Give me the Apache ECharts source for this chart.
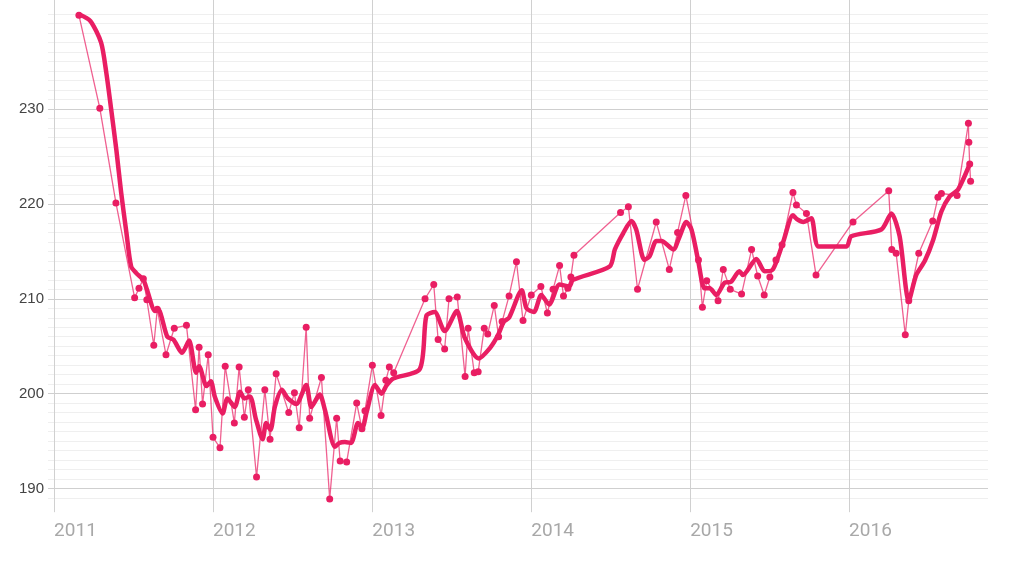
<!DOCTYPE html>
<html>
<head>
<meta charset="utf-8">
<script src="https://cdn.jsdelivr.net/npm/echarts@6/dist/echarts.min.js"></script>
<style>
    html, body { margin: 0; padding: 0; background: #fff; }
    #chart { width: 1024px; height: 576px; }
</style>
</head>
<body>
<div id="chart"></div>
<script>
// raw observations (thin line with dots)
const rawDates = [
    '2011-02-27', '2011-04-16', '2011-05-23', '2011-07-05', '2011-07-15', '2011-07-25', '2011-08-02', '2011-08-18',
    '2011-08-26', '2011-09-15', '2011-10-04', '2011-11-01', '2011-11-22', '2011-11-30', '2011-12-08', '2011-12-21',
    '2012-01-01', '2012-01-17', '2012-01-29', '2012-02-19', '2012-03-01', '2012-03-13', '2012-03-22', '2012-04-10',
    '2012-04-29', '2012-05-11', '2012-05-25', '2012-06-23', '2012-07-06', '2012-07-17', '2012-08-02', '2012-08-10',
    '2012-09-06', '2012-09-25', '2012-10-11', '2012-10-19', '2012-11-03', '2012-11-26', '2012-12-08', '2012-12-15',
    '2013-01-01', '2013-01-21', '2013-02-01', '2013-02-09', '2013-02-19', '2013-05-02', '2013-05-22', '2013-06-01',
    '2013-06-16', '2013-06-26', '2013-07-15', '2013-08-02', '2013-08-09', '2013-08-23', '2013-09-01', '2013-09-15',
    '2013-09-23', '2013-10-08', '2013-10-18', '2013-10-26', '2013-11-11', '2013-11-28', '2013-12-13', '2014-01-01',
    '2014-01-23', '2014-02-07', '2014-02-20', '2014-03-07', '2014-03-16', '2014-03-26', '2014-04-02', '2014-04-09',
    '2014-07-25', '2014-08-12', '2014-09-02', '2014-10-15', '2014-11-14', '2014-12-03', '2014-12-22', '2015-01-20',
    '2015-01-29', '2015-02-08', '2015-03-06', '2015-03-18', '2015-04-03', '2015-04-29', '2015-05-22', '2015-06-05',
    '2015-06-20', '2015-07-03', '2015-07-17', '2015-07-31', '2015-08-25', '2015-09-02', '2015-09-25', '2015-10-17',
    '2016-01-10', '2016-04-01', '2016-04-08', '2016-04-18', '2016-05-09', '2016-05-17', '2016-06-09', '2016-07-11',
    '2016-07-23', '2016-07-31', '2016-09-05', '2016-10-01', '2016-10-02', '2016-10-04', '2016-10-06'
]
const rawValues = [
    239.9, 230.1, 220.1, 210.1, 211.1, 212.1, 209.9, 205.1,
    208.9, 204.1, 206.9, 207.2, 198.3, 204.9, 198.9, 204.1,
    195.4, 194.3, 202.9, 196.9, 202.8, 197.5, 200.4, 191.2,
    200.4, 195.2, 202.1, 198.0, 200.1, 196.4, 207.0, 197.4,
    201.7, 188.9, 197.4, 192.9, 192.8, 199.0, 196.3, 198.2,
    203.0, 197.7, 201.4, 202.8, 202.2, 210.0, 211.5, 205.7,
    204.7, 210.0, 210.2, 201.8, 206.9, 202.2, 202.3, 206.9,
    206.3, 209.3, 206.0, 207.6, 210.3, 213.9, 207.7, 210.4,
    211.3, 208.5, 211.0, 213.5, 210.3, 211.1, 212.3, 214.6,
    219.1, 219.7, 211.0, 218.1, 213.1, 217.0, 220.9, 214.1,
    209.1, 211.9, 209.8, 213.1, 211.0, 210.5, 215.2, 212.4,
    210.4, 212.3, 214.1, 215.7, 221.2, 219.9, 219.0, 212.5,
    218.1, 221.4, 215.2, 214.8, 206.2, 209.8, 214.8, 218.2,
    220.7, 221.1, 220.9, 228.5, 226.5, 224.2, 222.4
]

// smoothed trend (thick line)
const trendDates = [
    '2011-02-27', '2011-03-25', '2011-04-19', '2011-05-01', '2011-05-12', '2011-05-24', '2011-06-04', '2011-06-16',
    '2011-06-27', '2011-07-09', '2011-07-25', '2011-08-02', '2011-08-21', '2011-08-28', '2011-09-18', '2011-10-02',
    '2011-10-22', '2011-11-07', '2011-11-23', '2011-11-30', '2011-12-17', '2011-12-27', '2012-01-05', '2012-01-23',
    '2012-02-03', '2012-02-20', '2012-03-03', '2012-03-13', '2012-03-26', '2012-04-08', '2012-04-24', '2012-05-02',
    '2012-05-12', '2012-05-22', '2012-06-07', '2012-06-21', '2012-07-10', '2012-08-02', '2012-08-14', '2012-09-02',
    '2012-09-14', '2012-10-07', '2012-10-17', '2012-10-30', '2012-11-13', '2012-11-29', '2012-12-09', '2012-12-19',
    '2013-01-07', '2013-01-22', '2013-02-03', '2013-02-18', '2013-04-20', '2013-05-05', '2013-05-24', '2013-06-16',
    '2013-07-14', '2013-08-01', '2013-09-02', '2013-09-28', '2013-10-17', '2013-10-30', '2013-11-11', '2013-12-10',
    '2013-12-21', '2014-01-07', '2014-01-24', '2014-02-11', '2014-03-07', '2014-03-29', '2014-04-07', '2014-06-30',
    '2014-07-12', '2014-07-31', '2014-08-19', '2014-08-30', '2014-09-18', '2014-09-30', '2014-10-15', '2014-10-27',
    '2014-11-23', '2014-12-08', '2014-12-23', '2015-01-04', '2015-01-19', '2015-02-03', '2015-02-15', '2015-03-02',
    '2015-03-21', '2015-04-05', '2015-04-24', '2015-05-02', '2015-06-02', '2015-06-21', '2015-07-10', '2015-08-02',
    '2015-08-25', '2015-09-03', '2015-09-18', '2015-10-06', '2015-10-23', '2015-12-26', '2016-01-06', '2016-03-15',
    '2016-04-07', '2016-04-26', '2016-05-17', '2016-06-03', '2016-06-23', '2016-07-12', '2016-07-31', '2016-08-19',
    '2016-09-07', '2016-10-04'
]
const trendValues = [
    240.0, 239.3, 237.0, 233.8, 230.0, 225.7, 221.2, 217.0,
    213.4, 212.7, 212.0, 211.0, 208.7, 208.9, 206.0, 205.7,
    204.3, 205.6, 202.2, 202.9, 200.8, 201.3, 199.7, 197.9,
    199.5, 198.6, 200.2, 199.5, 199.7, 197.4, 195.2, 196.9,
    196.2, 198.6, 200.4, 199.5, 198.9, 200.9, 198.6, 199.9,
    198.3, 194.4, 194.8, 194.9, 194.8, 196.9, 196.4, 198.1,
    200.9, 200.0, 200.9, 201.6, 202.6, 208.2, 208.6, 206.6,
    208.7, 205.9, 203.7, 204.8, 206.2, 207.6, 208.0, 210.9,
    209.0, 208.6, 210.4, 209.4, 211.5, 211.3, 212.0, 213.4,
    215.2, 216.9, 218.2, 217.3, 214.1, 214.5, 216.1, 216.1,
    215.2, 216.6, 218.1, 217.3, 214.1, 211.1, 211.1, 210.4,
    211.7, 211.8, 212.9, 212.5, 214.2, 212.9, 213.1, 215.9,
    218.8, 218.4, 218.1, 218.5, 215.5, 215.5, 216.6, 217.3,
    219.0, 216.6, 209.8, 212.5, 214.0, 216.2, 219.2, 220.8,
    221.5, 224.2
]

// y tick labels shown on the axis
const yTickLabels = [190, 200, 210, 220, 230]
// ruled band of the plot (horizontal lines only drawn inside it)
const ruleMin = 189
const ruleMax = 240
// axis range is a little wider so the year lines run past the rules
const yMin = 187.5
const yMax = 241.5

const lineColor = '#e91e63'

// major lines at labelled ticks, light lines for every other unit
const splitColors = []
for (let v = yMin; v <= yMax + 1e-9; v += 0.5) {
    if (v % 1 !== 0 || v < ruleMin || v > ruleMax) splitColors.push('rgba(0,0,0,0)')
    else splitColors.push(yTickLabels.includes(v) ? '#cfcfcf' : '#efefef')
}

const chart = echarts.init(document.getElementById('chart'))

const year = 365 * 24 * 3600 * 1000

chart.setOption({
    animation: false,
    grid: {
        left: 48,
        right: 36,
        top: -1.2,
        bottom: 63.8
    },
    xAxis: {
        type: 'time',
        min: '2010-12-18',
        max: '2016-11-15',
        minInterval: year,
        maxInterval: year * 1.01,
        axisLine: { show: false },
        axisTick: { show: false },
        axisLabel: {
            color: '#a8a8a8',
            fontSize: 19,
            fontFamily: 'Roboto',
            align: 'left',
            margin: 10,
            formatter: '{yyyy}'
        },
        splitLine: {
            show: true,
            showMinLine: false,
            showMaxLine: false,
            lineStyle: { color: '#d0d0d0', width: 1 }
        }
    },
    yAxis: {
        type: 'value',
        min: yMin,
        max: yMax,
        interval: 0.5,
        axisLine: { show: false },
        axisTick: { show: false },
        axisLabel: {
            color: '#444',
            fontSize: 15,
            fontFamily: 'Liberation Sans',
            margin: 4,
            showMinLabel: false,
            showMaxLabel: false,
            formatter: v => {
                const r = Math.round(v * 2) / 2
                return yTickLabels.includes(r) ? String(r) : ''
            }
        },
        splitLine: { show: true, showMinLine: true, showMaxLine: true, lineStyle: { color: splitColors, width: 1 } }
    },
    series: [
        {
            name: 'trend',
            type: 'line',
            data: trendDates.map((d, i) => [d, trendValues[i]]),
            showSymbol: false,
            smooth: 0.25,
            clip: false,
            lineStyle: { width: 4.5, color: lineColor, cap: 'round', join: 'round' },
            z: 2
        },
        {
            name: 'raw',
            type: 'line',
            data: rawDates.map((d, i) => [d, rawValues[i]]),
            symbol: 'circle',
            symbolSize: 7,
            clip: false,
            itemStyle: { color: lineColor },
            lineStyle: { width: 1.3, color: 'rgba(233, 30, 99, 0.7)' },
            z: 3
        }
    ]
})
</script>
</body>
</html>
